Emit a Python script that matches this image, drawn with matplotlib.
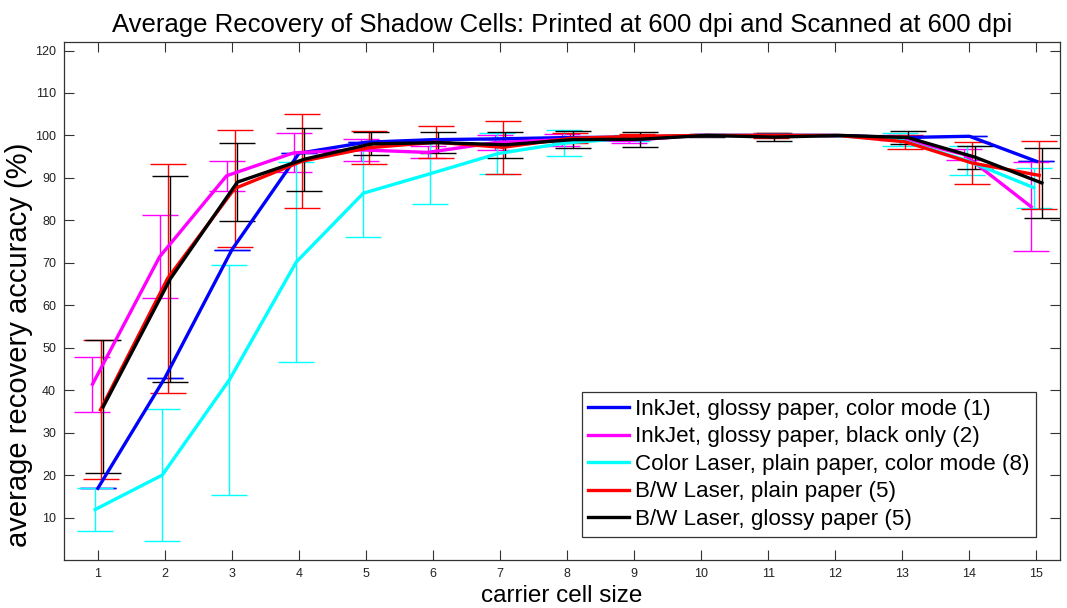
import numpy as np
import matplotlib.pyplot as plt

plt.rcParams['font.family'] = ['Liberation Sans', 'DejaVu Sans']

# carrier cell size
cell = np.arange(1, 16)

labels = ['InkJet, glossy paper, color mode (1)',
          'InkJet, glossy paper, black only (2)',
          'Color Laser, plain paper, color mode (8)',
          'B/W Laser, plain paper (5)',
          'B/W Laser, glossy paper (5)']

inkjet_color = [16.9, 42.9, 73.1, 95.8, 98.4, 99.0, 99.2, 99.5, 99.6, 100, 100, 100, 99.5, 99.8, 93.9]
inkjet_color_err = [0, 0, 0, 0, 0, 0, 0, 0, 0, 0, 0, 0, 0, 0, 0]

inkjet_black = [41.4, 71.4, 90.5, 95.9, 96.6, 96.0, 98.3, 99.0, 98.8, 100, 100, 100, 99.5, 95.5, 83.2]
inkjet_black_err = [6.5, 9.8, 3.5, 4.6, 2.6, 1.4, 1.8, 1.4, 0.6, 0.2, 0.2, 0.1, 0.5, 1.2, 10.5]

color_laser = [11.9, 20.0, 42.4, 70.2, 86.4, 91.0, 95.7, 98.2, 99.4, 100, 100, 100, 99.0, 94.1, 87.7]
color_laser_err = [5.0, 15.6, 27.2, 23.5, 10.3, 7.2, 4.9, 3.0, 0.8, 0.2, 0.2, 0.1, 1.5, 3.5, 4.7]

bw_plain = [35.4, 66.3, 87.5, 93.9, 97.1, 98.4, 97.2, 99.3, 99.8, 100, 100, 100, 98.5, 93.5, 90.6]
bw_plain_err = [16.4, 27.0, 13.8, 11.1, 3.9, 3.8, 6.2, 1.2, 0.5, 0.2, 0.5, 0.2, 1.7, 4.9, 8.0]

bw_glossy = [36.1, 66.2, 89.0, 94.4, 98.0, 98.3, 97.8, 99.0, 99.1, 100, 99.6, 100, 99.5, 94.9, 88.8]
bw_glossy_err = [15.7, 24.2, 9.1, 7.4, 2.7, 2.5, 3.1, 2.0, 1.8, 0.3, 0.9, 0.2, 1.5, 2.7, 8.2]

series = [inkjet_color, inkjet_black, color_laser, bw_plain, bw_glossy]
errors = [inkjet_color_err, inkjet_black_err, color_laser_err, bw_plain_err, bw_glossy_err]
colors = ['#0000ff', '#ff00ff', '#00ffff', '#ff0000', '#000000']
# small horizontal shift so the error bars don't sit on top of each other
shifts = [0.0, -0.08, -0.04, 0.04, 0.08]

fig = plt.figure(figsize=(10.67, 6.08), dpi=100)
ax = fig.add_axes([0.0603, 0.0789, 0.9331, 0.852])

lines = []
for y, e, c, s in zip(series, errors, colors, shifts):
    eb = ax.errorbar(cell + s, y, yerr=e, color=c, lw=2.4, elinewidth=1.0,
                     capsize=13, capthick=1.0)
    lines.append(eb[0])

ax.set_xlim(0.5, 15.35)
ax.set_ylim(0, 122)
ax.set_xticks(cell)
ax.set_yticks(np.arange(10, 121, 10))
ax.tick_params(direction='in', length=7, width=0.8, top=True, right=True,
               labelsize=9, colors='#333333', labelcolor='#222222', pad=6)
for sp in ax.spines.values():
    sp.set_color('#333333')
    sp.set_linewidth(0.9)

ax.set_xlabel('carrier cell size', fontsize=17.5, labelpad=3)
ax.set_ylabel('average recovery accuracy (%)', fontsize=21)
ax.yaxis.set_label_coords(-0.031, 0.415)
ax.set_title('Average Recovery of Shadow Cells: Printed at 600 dpi and Scanned at 600 dpi',
             fontsize=18.5, pad=7)

leg = ax.legend(lines, labels, loc='lower right', fontsize=16.1, fancybox=False,
                framealpha=1, edgecolor='#333333', handlelength=1.82,
                handletextpad=0.28, labelspacing=0.29, borderaxespad=1.05,
                borderpad=0.3)
leg.get_frame().set_linewidth(0.9)

fig.savefig('out.png', dpi=100)
